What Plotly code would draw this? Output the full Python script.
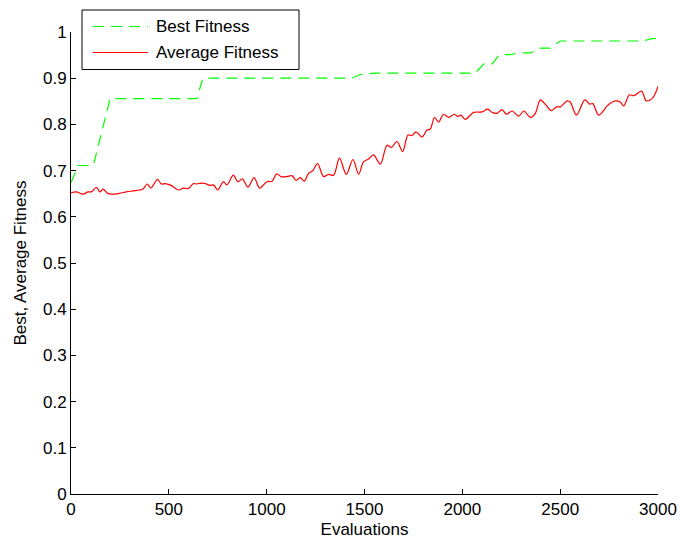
import plotly.graph_objects as go

# Best fitness found so far (step-like, linearly joined samples)
best_evals = [0, 37, 114, 200, 643, 674, 1436, 1478, 1550, 2066, 2110, 2153, 2189, 2245,
              2290, 2348, 2400, 2450, 2500, 2926, 2965, 3000]
best_fit = [0.674, 0.711, 0.711, 0.856, 0.856, 0.900, 0.900, 0.908, 0.911, 0.911, 0.931, 0.931,
            0.951, 0.951, 0.955, 0.955, 0.965, 0.965, 0.9805, 0.9805, 0.9856, 0.9856]

# Population average fitness
avg_evals = [0, 27, 61, 87, 104, 130, 147, 164, 186, 206, 249, 283, 317, 351, 368, 390, 408,
             442, 462, 482, 506, 523, 549, 575, 600, 626, 643, 665, 685, 711, 728, 750, 779,
             796, 830, 853, 876, 904, 936, 964, 1001, 1027, 1052, 1073, 1103, 1129, 1151, 1171,
             1192, 1214, 1236, 1260, 1291, 1316, 1342, 1372, 1407, 1441, 1470, 1495, 1521,
             1546, 1581, 1615, 1637, 1666, 1695, 1722, 1743, 1763, 1794, 1819, 1836, 1858,
             1879, 1904, 1930, 1959, 1976, 1993, 2015, 2058, 2101, 2130, 2152, 2177, 2203,
             2225, 2254, 2288, 2314, 2348, 2373, 2399, 2425, 2455, 2481, 2501, 2536, 2552,
             2583, 2626, 2651, 2667, 2697, 2740, 2757, 2783, 2808, 2825, 2854, 2876, 2916,
             2940, 2974, 3000]
avg_fit = [0.652, 0.654, 0.649, 0.654, 0.654, 0.664, 0.654, 0.660, 0.651, 0.649, 0.651, 0.654,
           0.656, 0.658, 0.660, 0.671, 0.662, 0.681, 0.671, 0.672, 0.669, 0.665, 0.658, 0.662,
           0.661, 0.672, 0.671, 0.673, 0.672, 0.668, 0.669, 0.658, 0.676, 0.669, 0.690, 0.676,
           0.682, 0.664, 0.685, 0.662, 0.676, 0.677, 0.693, 0.687, 0.687, 0.689, 0.679, 0.685,
           0.677, 0.694, 0.700, 0.715, 0.687, 0.692, 0.690, 0.727, 0.692, 0.724, 0.692, 0.719,
           0.725, 0.734, 0.714, 0.755, 0.750, 0.763, 0.741, 0.777, 0.776, 0.784, 0.773, 0.788,
           0.790, 0.815, 0.805, 0.822, 0.815, 0.822, 0.817, 0.820, 0.811, 0.826, 0.827, 0.833,
           0.826, 0.824, 0.832, 0.822, 0.829, 0.818, 0.829, 0.815, 0.824, 0.853, 0.843, 0.830,
           0.838, 0.838, 0.851, 0.848, 0.820, 0.853, 0.844, 0.845, 0.820, 0.840, 0.846, 0.851,
           0.848, 0.840, 0.864, 0.862, 0.872, 0.851, 0.858, 0.882]

x_ticks = [0, 500, 1000, 1500, 2000, 2500, 3000]
y_ticks = [0, 0.1, 0.2, 0.3, 0.4, 0.5, 0.6, 0.7, 0.8, 0.9, 1]

W, H = 680, 547
ML, MR, MT, MB = 71, 22, 32, 53
PW, PH = W - ML - MR, H - MT - MB
FONT = "Liberation Sans, Arial, Helvetica, sans-serif"
GREEN, RED = "#00ff00", "#ff0000"
BEST_DASH = "11px,7px"

fig = go.Figure()
fig.add_trace(go.Scatter(x=best_evals, y=best_fit, mode="lines", name="Best Fitness",
                         line=dict(color=GREEN, width=1.2, dash=BEST_DASH)))
fig.add_trace(go.Scatter(x=avg_evals, y=avg_fit, mode="lines", name="Average Fitness",
                         line=dict(color=RED, width=1.2, shape="spline", smoothing=0.9)))


def px_x(p):
    return (p - ML) / PW


def px_y(p):
    return (H - MB - p) / PH


# Legend box drawn in paper space, above the top-left of the axes
shapes = [
    dict(type="rect", xref="paper", yref="paper", x0=px_x(82), x1=px_x(299),
         y0=px_y(69.5), y1=px_y(10), line=dict(color="black", width=1), fillcolor="white",
         layer="above"),
    dict(type="line", xref="paper", yref="paper", x0=px_x(93), x1=px_x(148),
         y0=px_y(26.5), y1=px_y(26.5), line=dict(color=GREEN, width=1.2, dash=BEST_DASH),
         layer="above"),
    dict(type="line", xref="paper", yref="paper", x0=px_x(93), x1=px_x(148),
         y0=px_y(52.5), y1=px_y(52.5), line=dict(color=RED, width=1.2), layer="above"),
]
annotations = [
    dict(text="Best Fitness", xref="paper", yref="paper", x=px_x(154), y=px_y(26.5),
         xanchor="left", yanchor="middle", showarrow=False,
         font=dict(family=FONT, size=17, color="black")),
    dict(text="Average Fitness", xref="paper", yref="paper", x=px_x(154), y=px_y(52.5),
         xanchor="left", yanchor="middle", showarrow=False,
         font=dict(family=FONT, size=17, color="black")),
]

axis_common = dict(showline=True, linecolor="black", linewidth=1, ticks="inside", ticklen=5,
                   tickcolor="black", showgrid=False, zeroline=False, mirror=False,
                   automargin=False,
                   tickfont=dict(family=FONT, size=17, color="black"))

fig.update_layout(
    width=W, height=H,
    margin=dict(l=ML, r=MR, t=MT, b=MB, pad=0),
    paper_bgcolor="white", plot_bgcolor="white",
    showlegend=False,
    shapes=shapes, annotations=annotations,
    xaxis=dict(range=[0, 3000], tickvals=x_ticks, title=dict(text="Evaluations", standoff=4,
               font=dict(family=FONT, size=17, color="black")), **axis_common),
    yaxis=dict(range=[0, 1], tickvals=y_ticks, title=dict(text="Best, Average Fitness",
               standoff=12, font=dict(family=FONT, size=17, color="black")), **axis_common),
)

fig.write_html("out.html")
